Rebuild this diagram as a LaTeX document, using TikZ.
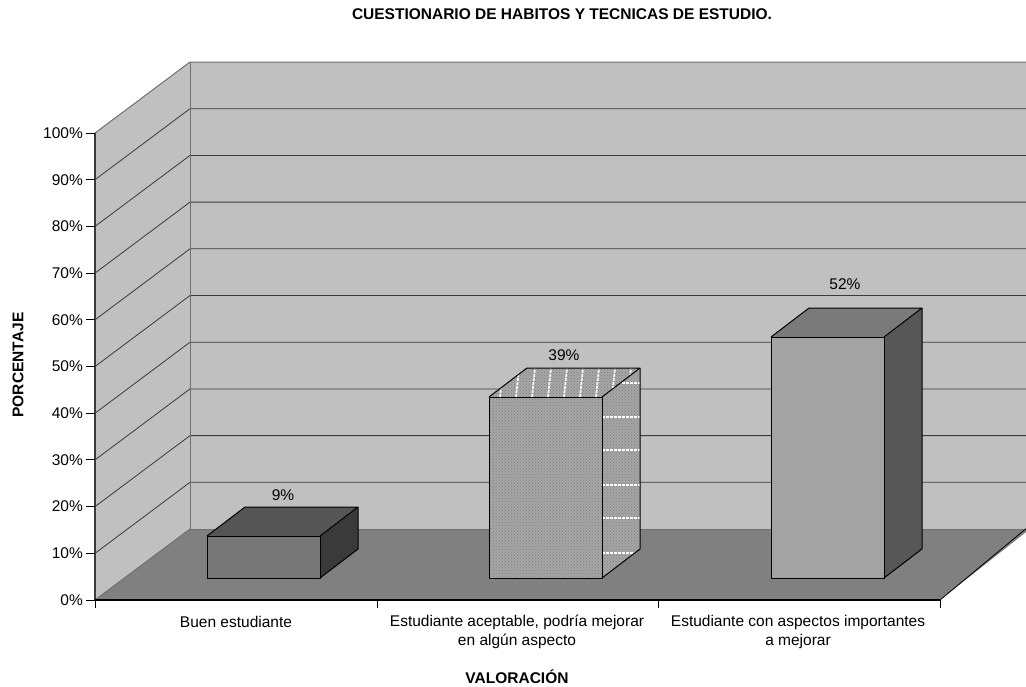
\documentclass[tikz,border=0pt]{standalone}
\usepackage{fontspec}
\setmainfont{Liberation Sans}
\usetikzlibrary{patterns}
\definecolor{wallc}{HTML}{C0C0C0}
\definecolor{floorc}{HTML}{808080}
\definecolor{gridc}{HTML}{3A3A3A}
\definecolor{edgec}{HTML}{707070}
\definecolor{baraF}{HTML}{777777}
\definecolor{baraT}{HTML}{555555}
\definecolor{baraS}{HTML}{3A3A3A}
\definecolor{barbF}{HTML}{A6A6A6}
\definecolor{barbP}{HTML}{808080}
\definecolor{barcF}{HTML}{A3A3A3}
\definecolor{barcT}{HTML}{7A7A7A}
\definecolor{barcS}{HTML}{575757}
\begin{document}
\begin{tikzpicture}[x=1pt,y=-1pt,
  txt/.style={font=\fontsize{15.5}{19}\selectfont, inner sep=0pt},
  btxt/.style={font=\fontsize{15.5}{19}\selectfont\bfseries, inner sep=0pt},
  gridline/.style={draw=gridc, line width=0.8pt},
  wallEdge/.style={draw=edgec, line width=1pt},
  baredge/.style={draw=black, line width=1pt, line join=round},
  tick/.style={draw=black, line width=1pt}]
\useasboundingbox (0,0) rectangle (1026,686);
\clip (0,0) rectangle (1026,686);
% walls and floor
\fill[wallc] (95,600) -- (95,133) -- (190,62) -- (190,529) -- cycle;
\fill[wallc] (190,62) rectangle (1030,529);
\fill[floorc] (95,600) -- (190,529) -- (1030,529) -- (940,600) -- cycle;
% grid lines
\foreach \k in {1,...,9} {
  \draw[gridline] (95,{600-46.7*\k}) -- (190,{529-46.7*\k}) -- (1030,{529-46.7*\k});
}
\draw[wallEdge] (95,133) -- (190,62) -- (1030,62);
\draw[wallEdge] (190,62) -- (190,529) -- (1030,529);
\draw[wallEdge] (95,600) -- (190,529);
\draw[draw=black, line width=0.8pt] (940,600) -- (1028,527);
% axes
\draw[draw=gridc, line width=1.2pt] (95,133) -- (95,600);
\draw[draw=black, line width=1.2pt] (95,600) -- (940,600);
\foreach \k/\t in {0/0,1/10,2/20,3/30,4/40,5/50,6/60,7/70,8/80,9/90,10/100} {
  \draw[tick] (86,{600-46.7*\k}) -- (95,{600-46.7*\k});
  \node[txt, anchor=east] (y\k) at (83,{600-46.7*\k}) {\t\%};
}
\foreach \x in {95,377,658,940} {
  \draw[tick] (\x,600) -- (\x,608);
}
% bar 1
\fill[baraF] (207,536) rectangle (320,578);
\fill[baraT] (207,536) -- (245,507) -- (358,507) -- (320,536) -- cycle;
\fill[baraS] (320,536) -- (358,507) -- (358,549) -- (320,578) -- cycle;
\draw[baredge] (207,536) rectangle (320,578);
\draw[baredge] (207,536) -- (245,507) -- (358,507) -- (320,536);
\draw[baredge] (358,507) -- (358,549) -- (320,578);
% bar 2
\fill[barbF] (489,397) rectangle (602,578);
\fill[pattern=crosshatch dots, pattern color=barbP] (489,397) rectangle (602,578);
\begin{scope}
\clip (489,397) -- (527,368) -- (640,368) -- (602,397) -- cycle;
\fill[barbF] (480,360) rectangle (650,400);
\fill[pattern=crosshatch dots, pattern color=barbP] (480,360) rectangle (650,400);
\foreach \i in {0,...,8} {
  \draw[white, line width=1.6pt, dash pattern=on 3pt off 1pt] ({500+16*\i},397) -- ({503+16*\i},368);
}
\end{scope}
\begin{scope}
\clip (602,397) -- (640,368) -- (640,549) -- (602,578) -- cycle;
\fill[barbF] (600,360) rectangle (650,580);
\fill[pattern=crosshatch dots, pattern color=barbP] (600,360) rectangle (650,580);
\foreach \y in {383,417,450,485,518,553} {
  \draw[white, line width=1.4pt, dash pattern=on 3pt off 1pt] (602,\y) -- (640,\y);
}
\end{scope}
\draw[baredge] (489,397) rectangle (602,578);
\draw[baredge] (489,397) -- (527,368) -- (640,368) -- (602,397);
\draw[baredge] (640,368) -- (640,549) -- (602,578);
% bar 3
\fill[barcF] (771,337) rectangle (884,578);
\fill[barcT] (771,337) -- (809,308) -- (922,308) -- (884,337) -- cycle;
\fill[barcS] (884,337) -- (922,308) -- (922,549) -- (884,578) -- cycle;
\draw[baredge] (771,337) rectangle (884,578);
\draw[baredge] (771,337) -- (809,308) -- (922,308) -- (884,337);
\draw[baredge] (922,308) -- (922,549) -- (884,578);
% data labels
\node[txt] (v1) at (283,495) {9\%};
\node[txt] (v2) at (564,355) {39\%};
\node[txt] (v3) at (845,284) {52\%};
% category labels
\node[txt] (c1) at (236,622) {Buen estudiante};
\node[txt, align=center] (c2) at (517,631.5) {Estudiante aceptable, podría mejorar\\en algún aspecto};
\node[txt, align=center] (c3) at (798,631.5) {Estudiante con aspectos importantes\\a mejorar};
% titles
\node[btxt] (title) at (562,14) {CUESTIONARIO DE HABITOS Y TECNICAS DE ESTUDIO.};
\node[btxt] (xlab) at (517,677) {VALORACIÓN};
\node[btxt, rotate=90] (ylab) at (18,365) {PORCENTAJE};
\end{tikzpicture}
\end{document}
